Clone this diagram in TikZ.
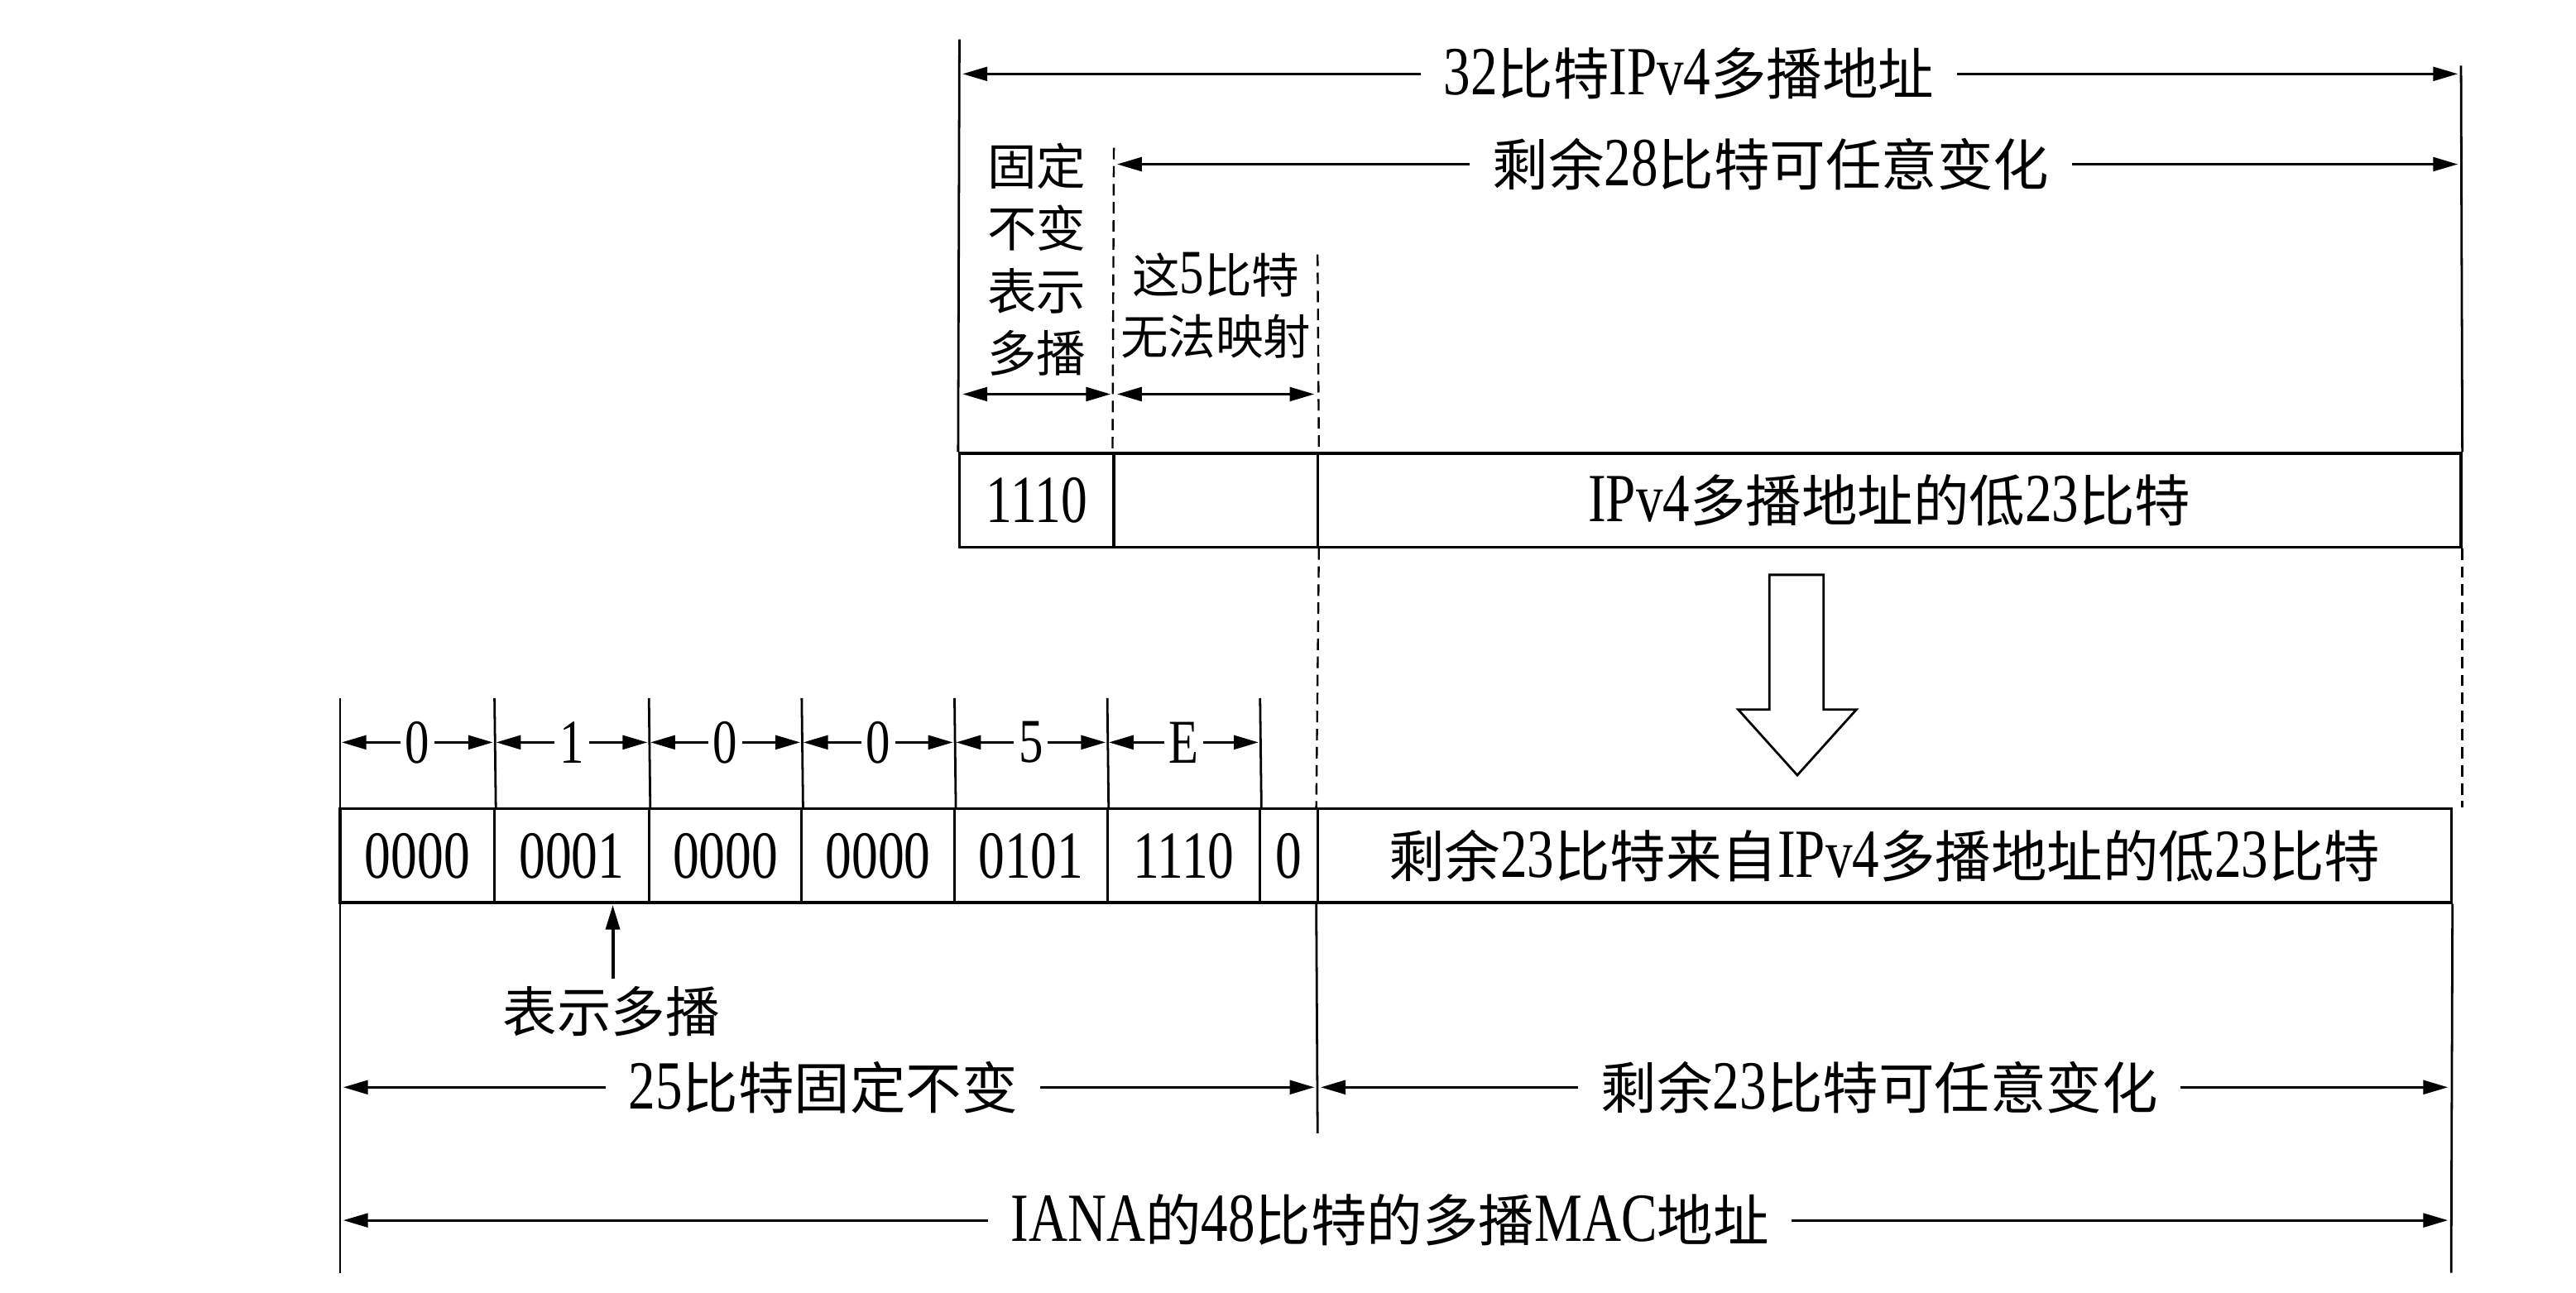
\documentclass[tikz,border=0pt]{standalone}
\usepackage{fontspec}
\usepackage{graphicx}
\setmainfont{Liberation Serif}
\newfontfamily\cjkfont{Noto Sans CJK SC}
\newcommand\zh[1]{{\cjkfont #1}}
\newcommand\nm[2][42]{\scalebox{0.78}[1]{\fontsize{#1}{#1}\selectfont #2}}
\usetikzlibrary{arrows.meta}
\tikzset{
  ln/.style={line width=1.4pt},
  dl/.style={line width=1.2pt,dash pattern=on 7pt off 4pt},
  dim/.style={line width=1.4pt,{Triangle[length=15pt,width=8.5pt]}-{Triangle[length=15pt,width=8.5pt]}},
  big/.style={fill=white,inner xsep=14pt,inner ysep=1pt,font=\fontsize{34}{40}\selectfont},
  hex/.style={fill=white,inner xsep=3pt,inner ysep=1pt,font=\fontsize{30}{36}\selectfont},
  cell/.style={draw,line width=1.6pt,minimum height=57pt,inner sep=0pt,font=\fontsize{34}{40}\selectfont},
  small/.style={align=center,inner sep=0pt,font=\fontsize{30}{38}\selectfont}
}
\begin{document}
\begin{tikzpicture}[x=1pt,y=-1pt]
\useasboundingbox[fill=white] (0,0) rectangle (1568,787);
% ---------- IPv4 address ----------
\node[cell,minimum width=94pt] (ip1) at (631,304.5) {\nm[41]{1110}};
\node[cell,minimum width=124pt] (ip2) at (740,304.5) {};
\node[cell,minimum width=696pt] (ip3) at (1150,304.5) {\nm{IPv4}\zh{多播地址的低}\nm{23}\zh{比特}};
\coordinate (tl) at (584,24);
\coordinate (tr) at (1498,40);
\draw[ln] (tl) -- (ip1.north west);
\draw[ln] (tr) -- (ip3.north east);
\coordinate (d1) at (678,90);
\coordinate (d2) at (802,155);
\draw[dl] (d1) -- (ip2.north west);
\draw[dl] (d2) -- (ip2.north east);
% 32-bit arrow
\coordinate (a1l) at (586,45);
\coordinate (a1r) at (1496,45);
\draw[dim] (a1l) -- (a1r);
\node[big] (t32) at (1028,45) {\nm{32}\zh{比特}\nm{IPv4}\zh{多播地址}};
% 28-bit arrow
\coordinate (a2l) at (680,100);
\coordinate (a2r) at (1496,100);
\draw[dim] (a2l) -- (a2r);
\node[big] (t28) at (1078,100) {\zh{剩余}\nm{28}\zh{比特可任意变化}};
% vertical labels
\node[small] (fix) at (631,158) {\zh{固定}\\\zh{不变}\\\zh{表示}\\\zh{多播}};
\node[small,font=\fontsize{29}{37}\selectfont] (five) at (740,186) {\zh{这}\nm[38]{5}\zh{比特}\\\zh{无法映射}};
\coordinate (s1l) at (586,240);
\coordinate (s1r) at (676,240);
\coordinate (s2l) at (680,240);
\coordinate (s2r) at (800,240);
\draw[dim] (s1l) -- (s1r);
\draw[dim] (s2l) -- (s2r);
% ---------- hollow arrow ----------
\draw[line width=1.4pt,fill=white] (1077,350) -- (1110,350) -- (1110,432) -- (1130,432)
  -- (1094,472) -- (1058,432) -- (1077,432) -- cycle;
% ---------- MAC address ----------
\node[cell,minimum width=94pt] (m1) at (254,521) {\nm[41]{0000}};
\node[cell,minimum width=94pt] (m2) at (348,521) {\nm[41]{0001}};
\node[cell,minimum width=93pt] (m3) at (441.5,521) {\nm[41]{0000}};
\node[cell,minimum width=93pt] (m4) at (534.5,521) {\nm[41]{0000}};
\node[cell,minimum width=93pt] (m5) at (627.5,521) {\nm[41]{0101}};
\node[cell,minimum width=93pt] (m6) at (720.5,521) {\nm[41]{1110}};
\node[cell,minimum width=35pt] (m7) at (784.5,521) {\nm[41]{0}};
\node[cell,minimum width=690pt] (m8) at (1147,521) {\zh{剩余}\nm{23}\zh{比特来自}\nm{IPv4}\zh{多播地址的低}\nm{23}\zh{比特}};
% dashed projections
\draw[dl] (ip2.south east) -- (m8.north west);
\coordinate (dr) at (ip3.south east |- m8.north);
\draw[dl] (ip3.south east) -- (dr);
% hex ticks
\coordinate (h0) at (207,425);
\coordinate (h1) at (301,425);
\coordinate (h2) at (395,425);
\coordinate (h3) at (488,425);
\coordinate (h4) at (581,425);
\coordinate (h5) at (674,425);
\coordinate (h6) at (767,425);
\coordinate (bl) at (207,775);
\draw[ln] (h0) -- (bl);
\draw[ln] (h1) -- (m1.north east);
\draw[ln] (h2) -- (m2.north east);
\draw[ln] (h3) -- (m3.north east);
\draw[ln] (h4) -- (m4.north east);
\draw[ln] (h5) -- (m5.north east);
\draw[ln] (h6) -- (m6.north east);
\coordinate (br) at (1492,775);
\draw[ln] (m8.south east) -- (br);
\coordinate (bm) at (802,690);
\draw[ln] (m8.south west) -- (bm);
% hex arrows
\foreach \a/\b/\t [count=\i] in {207/301/0,301/395/1,395/488/0,488/581/0,581/674/5,674/767/E}{
  \coordinate (hl\i) at (\a+1,452);
  \coordinate (hr\i) at (\b-1,452);
  \draw[dim] (hl\i) -- (hr\i);
  \node[hex] (hx\i) at ({(\a+\b)/2},452) {\nm[38]{\t}};
}
% multicast bit
\node[inner sep=0pt,font=\fontsize{33}{40}\selectfont] (mc) at (372,616) {\zh{表示多播}};
\coordinate (mcb) at (373,596);
\coordinate (mct) at (373,551);
\draw[line width=2pt,-{Triangle[length=15pt,width=8.5pt]}] (mcb) -- (mct);
% 25 bits / 23 bits
\coordinate (f1l) at (209,662);
\coordinate (f1r) at (800,662);
\draw[dim] (f1l) -- (f1r);
\node[big] (t25) at (501,662) {\nm{25}\zh{比特固定不变}};
\coordinate (f2l) at (804,662);
\coordinate (f2r) at (1490,662);
\draw[dim] (f2l) -- (f2r);
\node[big] (t23) at (1144,662) {\zh{剩余}\nm{23}\zh{比特可任意变化}};
% 48 bits
\coordinate (f3l) at (209,743);
\coordinate (f3r) at (1490,743);
\draw[dim] (f3l) -- (f3r);
\node[big] (t48) at (846,743) {\nm{IANA}\zh{的}\nm{48}\zh{比特的多播}\nm{MAC}\zh{地址}};
\end{tikzpicture}
\end{document}
